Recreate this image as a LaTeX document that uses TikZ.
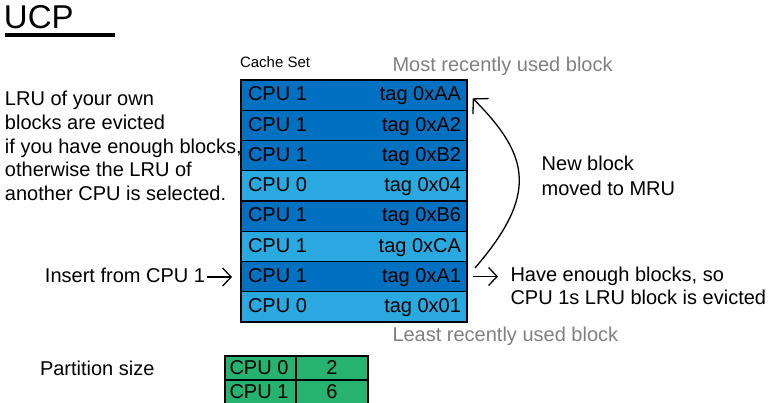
\documentclass[tikz,border=0pt]{standalone}
\usepackage{fontspec}
\setmainfont{Liberation Sans}
\usetikzlibrary{arrows.meta}
\definecolor{cpuone}{HTML}{0070C0}
\definecolor{cpuzero}{HTML}{2AA9E0}
\definecolor{partgreen}{HTML}{27B26F}
\definecolor{hintgray}{HTML}{808080}

\begin{document}
\begin{tikzpicture}[x=1pt,y=-1pt,
  every node/.style={inner sep=0pt, outer sep=0pt},
  txt/.style={anchor=base west, font=\fontsize{20}{24}\selectfont},
  txtr/.style={anchor=base east, font=\fontsize{20}{24}\selectfont},
  slot/.style={draw=black, line width=1.3pt, minimum width=226pt,
    minimum height=30.25pt, anchor=north west},
  part/.style={draw=black, line width=1.2pt, fill=partgreen,
    minimum height=24pt, anchor=north west},
  open arrow/.style={line width=1.3pt,
    -{Straight Barb[length=8.5pt,width=18pt,line width=1.3pt]}},
  big open arrow/.style={line width=1.3pt,
    -{Straight Barb[length=10.5pt,width=22pt,line width=1.3pt]}}
]
\useasboundingbox (0,0) rectangle (769,403);

% title
\node[anchor=base west, font=\fontsize{33}{33}\selectfont] (title) at (4,29) {UCP};
\draw[line width=3.5pt] (5,35) -- (115,35);

% cache set, most recently used block on top
\node[anchor=base west, font=\fontsize{15}{15}\selectfont] (setname) at (240,68) {Cache Set};
\node[txt, text=hintgray] (mru) at (392.5,71.5) {Most recently used block};
\node[txt, text=hintgray] (lru) at (392.5,341.5) {Least recently used block};

\foreach \cpu/\tag/\col [count=\i from 0] in
  {1/AA/cpuone, 1/A2/cpuone, 1/B2/cpuone, 0/04/cpuzero,
   1/B6/cpuone, 1/CA/cpuzero, 1/A1/cpuone, 0/01/cpuzero}{
  \node[slot, fill=\col] (r\i) at (241,{80+30.25*\i}) {};
  \node[txt] (c\i) at (248,{80+30.25*\i+21}) {CPU \cpu};
  \node[txtr] (t\i) at (461,{80+30.25*\i+21}) {tag 0x\tag};
}

% replacement policy note
\node[txt] (n1) at (5,106)   {LRU of your own};
\node[txt] (n2) at (5,129.6) {blocks are evicted};
\node[txt] (n3) at (5,153.2) {if you have enough blocks,};
\node[txt] (n4) at (5,176.8) {otherwise the LRU of};
\node[txt] (n5) at (5,200.5) {another CPU is selected.};

% insertion
\node[txt] (ins) at (45,283) {Insert from CPU 1};
\coordinate (insA) at (206.5,277);
\coordinate (insB) at (232,277);
\draw[open arrow] (insA) -- (insB);

% eviction
\coordinate (evA) at (473,276.5);
\coordinate (evB) at (498,276.5);
\draw[open arrow] (evA) -- (evB);
\node[txt] (ev1) at (510.5,281.5) {Have enough blocks, so};
\node[txt] (ev2) at (510.5,305)   {CPU 1s LRU block is evicted};

% promotion to MRU
\coordinate (mvA) at (475,268);
\coordinate (mvB) at (472.7,98.3);
\draw[big open arrow] (mvA) .. controls (537.4,195.4) and (531,156.6) .. (mvB);
\node[txt] (mv1) at (541.7,171)   {New block};
\node[txt] (mv2) at (541.7,195.5) {moved to MRU};

% partition sizes
\node[txt] (psize) at (40,376) {Partition size};
\node[part, minimum width=71pt] (p00) at (225,356) {};
\node[part, minimum width=72pt] (p01) at (296,356) {};
\node[part, minimum width=71pt] (p10) at (225,380) {};
\node[part, minimum width=72pt] (p11) at (296,380) {};
\node[txt] (p00t) at (229.5,375) {CPU 0};
\node[txt] (p10t) at (229.5,399) {CPU 1};
\node[anchor=base, font=\fontsize{20}{24}\selectfont] (p01t) at (p01.center |- p00t.base) {2};
\node[anchor=base, font=\fontsize{20}{24}\selectfont] (p11t) at (p11.center |- p10t.base) {6};
\end{tikzpicture}
\end{document}
